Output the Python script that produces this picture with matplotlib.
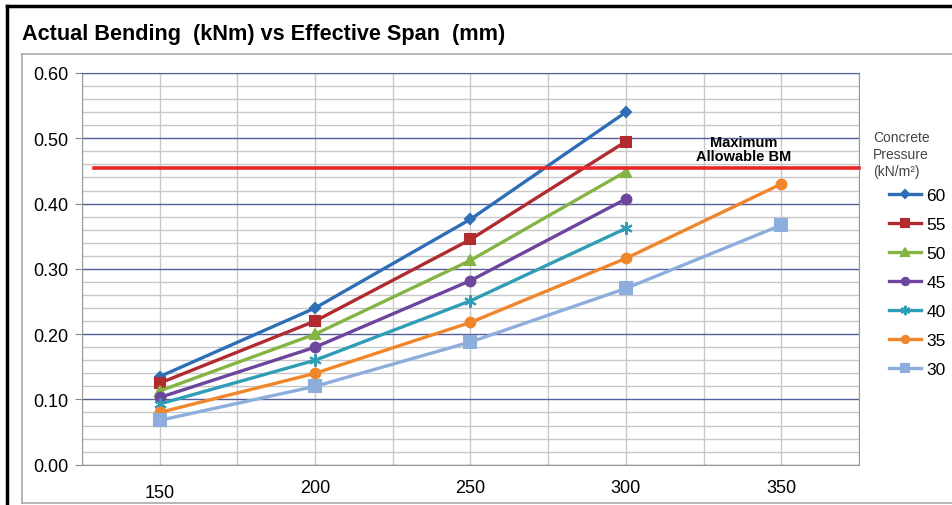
import matplotlib.pyplot as plt
import matplotlib.transforms as mtransforms
from matplotlib.lines import Line2D
from matplotlib.ticker import MultipleLocator

plt.rcParams['font.family'] = ['Liberation Sans', 'DejaVu Sans']

# effective span (mm)
spans = [150, 200, 250, 300, 350]

# actual bending (kNm) for each concrete pressure (kN/m2)
p60 = [0.135, 0.240, 0.376, 0.540]
p55 = [0.125, 0.220, 0.345, 0.495]
p50 = [0.113, 0.200, 0.313, 0.449]
p45 = [0.103, 0.180, 0.282, 0.407]
p40 = [0.093, 0.160, 0.251, 0.362]
p35 = [0.080, 0.140, 0.218, 0.316, 0.430]
p30 = [0.068, 0.120, 0.188, 0.270, 0.367]

max_bm = 0.455

series = [
    ("60", p60, "#2E6EB6", "D", 5),
    ("55", p55, "#B02A2E", "s", 7),
    ("50", p50, "#84B443", "^", 7),
    ("45", p45, "#6C459D", "o", 7),
    ("40", p40, "#2F9DB5", (6, 2, 0), 9),
    ("35", p35, "#F0862C", "o", 7),
    ("30", p30, "#8DADDC", "s", 8),
]

fig = plt.figure(figsize=(9.52, 5.06), dpi=100)
ax = fig.add_axes([0.0861, 0.0796, 0.8162, 0.7742])

for name, vals, col, mk, ms in series:
    ax.plot(spans[:len(vals)], vals, color=col, lw=2.4, marker=mk, ms=ms,
            mew=1.5, label=name, zorder=3)

ax.plot([129, 375], [max_bm, max_bm], color="#E8262A", lw=2.6,
        clip_on=False, zorder=4)
ax.text(338, 0.462, "Maximum\nAllowable BM", ha="center", va="bottom",
        fontsize=10.5, fontweight="bold", linespacing=1.0)

ax.set_xlim(125, 375)
ax.set_ylim(0, 0.6)
ax.set_xticks([150, 200, 250, 300, 350])
ax.xaxis.set_minor_locator(MultipleLocator(25))
ax.yaxis.set_major_locator(MultipleLocator(0.1))
ax.yaxis.set_minor_locator(MultipleLocator(0.02))
ax.yaxis.set_major_formatter(lambda v, p: f"{v:.2f}")

ax.grid(which="minor", color="#C8C8C8", lw=1.0, zorder=0)
ax.grid(which="major", axis="x", color="#C8C8C8", lw=1.0, zorder=0)
ax.grid(which="major", axis="y", color="#55609A", lw=1.0, zorder=1)
ax.set_axisbelow(True)

ax.tick_params(axis="y", which="major", length=5, color="#888888",
               labelsize=13, pad=5)
ax.tick_params(axis="y", which="minor", length=0)
ax.tick_params(axis="x", which="both", length=0, labelsize=13, pad=10)

# the first span label sits a little lower in the original
lab = ax.get_xticklabels()[0]
lab.set_transform(lab.get_transform() +
                  mtransforms.ScaledTranslation(0, -5 / 100, fig.dpi_scale_trans))

for s in ["left", "bottom", "right"]:
    ax.spines[s].set_color("#999999")
ax.spines["top"].set_color("#55609A")

leg = ax.legend(loc="upper left", bbox_to_anchor=(0.925, 0.644),
                bbox_transform=fig.transFigure, frameon=False, fontsize=12.5,
                handlelength=1.8, labelspacing=0.8, handletextpad=0.35,
                borderpad=0, markerscale=0.75)

fig.text(0.917, 0.741, "Concrete\nPressure\n(kN/m\u00b2)", fontsize=10,
         color="#444444", va="top", ha="left", linespacing=1.25)

fig.text(0.023, 0.932, "Actual Bending  (kNm) vs Effective Span  (mm)",
         fontsize=15.6, fontweight="bold", va="center")

# outer frame lines
fig.add_artist(Line2D([0.0074, 1.0], [0.986, 0.986], color="black", lw=2.5,
                      transform=fig.transFigure))
fig.add_artist(Line2D([0.0074, 0.0074], [0.0, 0.986], color="black", lw=2.5,
                      transform=fig.transFigure))
fig.add_artist(Line2D([0.023, 1.0], [0.891, 0.891], color="#AAAAAA", lw=1.2,
                      transform=fig.transFigure))
fig.add_artist(Line2D([0.023, 0.023], [0.003, 0.891], color="#AAAAAA", lw=1.2,
                      transform=fig.transFigure))
fig.add_artist(Line2D([0.023, 1.0], [0.003, 0.003], color="#AAAAAA", lw=1.2,
                      transform=fig.transFigure))

fig.savefig("out.png", dpi=100)
